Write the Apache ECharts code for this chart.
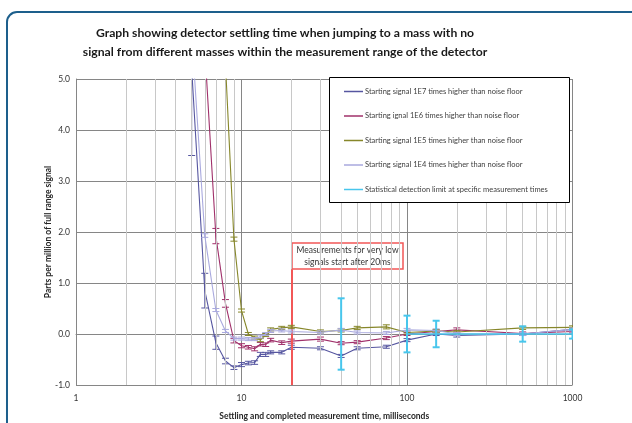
<!DOCTYPE html>
<html>
<head>
<meta charset="utf-8">
<script src="https://cdn.jsdelivr.net/npm/echarts@6/dist/echarts.min.js"></script>
<style>
  html, body { margin: 0; padding: 0; background: #fff; }
  #chart { width: 632px; height: 423px; }
</style>
</head>
<body>
<div id="chart"></div>
<script>
// settling time, ms
const times = [5, 6, 7, 8, 9, 10, 11, 12, 13, 14, 15, 17.5, 20, 30, 40, 50, 75, 100, 150, 200, 500, 1000];

const sig1e7 = [5.2, 0.85, -0.17, -0.53, -0.66, -0.6, -0.57, -0.56, -0.4, -0.4, -0.36, -0.36, -0.26, -0.28, -0.43, -0.28, -0.25, -0.12, 0.0, -0.03, 0.0, 0.09];
const err1e7 = [1.7, 0.34, 0.13, 0.055, 0.035, 0.04, 0.035, 0.035, 0.04, 0.04, 0.03, 0.03, 0.04, 0.03, 0.03, 0.03, 0.03, 0.03, 0.03, 0.03, 0.03, 0.03];

const sig1e6 = [null, 5.6, 1.92, 0.6, -0.13, -0.23, -0.26, -0.29, -0.2, -0.21, -0.12, -0.17, -0.14, -0.1, -0.18, -0.16, -0.08, 0.0, 0.05, 0.08, 0.01, 0.05];
const err1e6 = [null, 0.2, 0.15, 0.075, 0.045, 0.04, 0.035, 0.04, 0.035, 0.035, 0.035, 0.035, 0.04, 0.04, 0.03, 0.03, 0.03, 0.03, 0.03, 0.04, 0.03, 0.03];

const sig1e5 = [null, null, null, 5.3, 1.86, 0.46, 0.0, -0.07, -0.12, -0.02, 0.09, 0.12, 0.14, 0.05, 0.07, 0.12, 0.14, 0.03, 0.06, 0.04, 0.12, 0.13];
const err1e5 = [null, null, null, 0.1, 0.04, 0.03, 0.03, 0.03, 0.03, 0.03, 0.03, 0.03, 0.03, 0.03, 0.03, 0.03, 0.04, 0.03, 0.03, 0.03, 0.03, 0.03];

const sig1e4 = [5.9, 1.93, 0.47, 0.06, -0.09, -0.09, -0.1, -0.1, -0.05, 0.0, 0.06, 0.07, 0.05, 0.03, 0.08, 0.03, 0.02, 0.08, 0.07, 0.0, 0.0, 0.09];
const err1e4 = [0.1, 0.035, 0.03, 0.03, 0.03, 0.03, 0.03, 0.03, 0.03, 0.03, 0.03, 0.03, 0.03, 0.03, 0.03, 0.03, 0.03, 0.03, 0.03, 0.03, 0.03, 0.03];

// statistical detection limit (null breaks the line)
const detTimes = [40, 75, 100, 150, 500, 1000];
const detLimit = [0, null, 0, 0, 0, 0];
const detErr = [0.7, null, 0.36, 0.26, 0.15, 0.09];

const minorTicks = [2, 3, 4, 5, 6, 7, 8, 9, 20, 30, 40, 50, 60, 70, 80, 90, 200, 300, 400, 500, 600, 700, 800, 900];

const names = [
  'Starting signal 1E7 times higher than noise floor',
  'Starting ignal 1E6 times higher than noise floor',
  'Starting signal 1E5 times higher than noise floor',
  'Starting signal 1E4 times higher than noise floor',
  'Statistical detection limit at specific measurement times'
];
const colors = ['#5656a0', '#a0306a', '#87872a', '#a9a9de', '#48c6ec'];

const FONT = 'Lato, "Noto Sans", sans-serif';

function pairs(xs, ys) {
  return xs.map((x, i) => [x, ys[i]]);
}
function errData(xs, ys, es) {
  const out = [];
  xs.forEach((x, i) => { if (ys[i] != null) out.push([x, ys[i], es[i]]); });
  return out;
}

function errBars(color, width, cap) {
  return function (params, api) {
    const x = api.value(0), y = api.value(1), e = api.value(2);
    const top = api.coord([x, y + e]);
    const bot = api.coord([x, y - e]);
    const st = { stroke: color, lineWidth: width };
    return {
      type: 'group',
      children: [
        { type: 'line', shape: { x1: top[0], y1: top[1], x2: bot[0], y2: bot[1] }, style: st },
        { type: 'line', shape: { x1: top[0] - cap, y1: top[1], x2: top[0] + cap, y2: top[1] }, style: st },
        { type: 'line', shape: { x1: bot[0] - cap, y1: bot[1], x2: bot[0] + cap, y2: bot[1] }, style: st }
      ]
    };
  };
}

const sigs = [[sig1e7, err1e7], [sig1e6, err1e6], [sig1e5, err1e5], [sig1e4, err1e4]];

const series = [
  // minor vertical gridlines at 2..9 of each decade
  {
    type: 'line', data: [], z: 0, silent: true,
    markLine: {
      silent: true, symbol: 'none', label: { show: false },
      lineStyle: { color: '#c8c8c8', width: 1, type: 'solid' },
      data: minorTicks.map(v => ({ xAxis: v }))
    }
  }
];

sigs.forEach(([v, e], k) => {
  series.push({
    name: names[k], type: 'line', data: pairs(times, v),
    showSymbol: false, symbol: 'none', z: 3 + k,
    lineStyle: { color: colors[k], width: 1.1 },
    itemStyle: { color: colors[k] }
  });
  series.push({
    name: names[k], type: 'custom', clip: true, z: 3 + k,
    renderItem: errBars(colors[k], 1, 3.5),
    data: errData(times, v, e), encode: { x: 0, y: 1 }
  });
});

series.push({
  name: names[4], type: 'line', data: pairs(detTimes, detLimit),
  showSymbol: false, symbol: 'none', z: 8, connectNulls: false,
  lineStyle: { color: colors[4], width: 1.4 },
  itemStyle: { color: colors[4] },
  markLine: {
    silent: true, symbol: 'none', label: { show: false },
    lineStyle: { color: '#f25757', width: 2, type: 'solid' },
    data: [[{ coord: [20, -1] }, { coord: [20, 1.27] }]]
  }
});
series.push({
  name: names[4], type: 'custom', clip: true, z: 8,
  renderItem: errBars(colors[4], 2, 3.5),
  data: errData(detTimes, detLimit, detErr), encode: { x: 0, y: 1 }
});

const chart = echarts.init(document.getElementById('chart'));
chart.setOption({
  animation: false,
  title: {
    text: 'Graph showing detector settling time when jumping to a mass with no\nsignal from different masses within the measurement range of the detector',
    left: 280, top: 19, textAlign: 'center',
    textStyle: { fontFamily: FONT, fontSize: 12.2, fontWeight: 'bold', color: '#1a1a1a', lineHeight: 19 }
  },
  legend: {
    data: names, orient: 'vertical', left: 344, top: 87.5, z: 20,
    itemWidth: 19, itemHeight: 1.5, icon: 'rect', itemGap: 16.5,
    padding: 0, selectedMode: false,
    textStyle: { fontFamily: FONT, fontSize: 7.5, color: '#404040', padding: [0, 0, 0, -3] }
  },
  grid: { left: 76, top: 79, width: 496.5, height: 306, containLabel: false, outerBoundsMode: 'none' },
  xAxis: {
    type: 'log', logBase: 10, min: 1, max: 1000,
    name: 'Settling and completed measurement time, milliseconds',
    nameLocation: 'middle', nameGap: 27,
    nameTextStyle: { fontFamily: FONT, fontSize: 8.5, fontWeight: 'bold', color: '#262626' },
    axisLine: { show: true, lineStyle: { color: '#868686', width: 1 } },
    axisTick: { show: true, length: 3, lineStyle: { color: '#868686' } },
    axisLabel: { fontFamily: FONT, fontSize: 8.5, color: '#333', margin: 9, formatter: v => String(v) },
    splitLine: { show: true, lineStyle: { color: '#868686', width: 1 } },
    minorTick: { show: false }, minorSplitLine: { show: false }
  },
  yAxis: {
    type: 'value', min: -1, max: 5, interval: 1,
    name: 'Parts per million of full range signal',
    nameLocation: 'middle', nameGap: 23, nameRotate: 90, nameMoveOverlap: false,
    nameTextStyle: { fontFamily: FONT, fontSize: 8.5, fontWeight: 'bold', color: '#262626' },
    axisLine: { show: true, lineStyle: { color: '#868686', width: 1 } },
    axisTick: { show: false },
    axisLabel: { fontFamily: FONT, fontSize: 8.5, color: '#333', margin: 6, formatter: v => v.toFixed(1) },
    splitLine: { show: true, lineStyle: { color: '#868686', width: 1 } }
  },
  graphic: [
    {
      type: 'rect', silent: true, z: -1,
      shape: { x: 7, y: 12, width: 660, height: 440, r: 10 },
      style: { fill: 'none', stroke: '#1d5f8c', lineWidth: 2 }
    },
    {
      type: 'rect', silent: true, z: 10,
      shape: { x: 329.5, y: 77.5, width: 240, height: 125 },
      style: { fill: '#fff', stroke: '#000', lineWidth: 1 }
    },
    {
      type: 'group', z: 100, silent: true,
      children: [
        {
          type: 'rect', shape: { x: 292, y: 243, width: 111, height: 26 },
          style: { fill: '#fff', stroke: '#f25757', lineWidth: 1.5 }
        },
        {
          type: 'text', x: 347.5, y: 256,
          style: {
            text: 'Measurements for very low\nsignals start after 20ms',
            fontFamily: FONT, fontSize: 8.5, fill: '#333', lineHeight: 12,
            textAlign: 'center', textVerticalAlign: 'middle'
          }
        }
      ]
    }
  ],
  series: series
});
</script>
</body>
</html>
